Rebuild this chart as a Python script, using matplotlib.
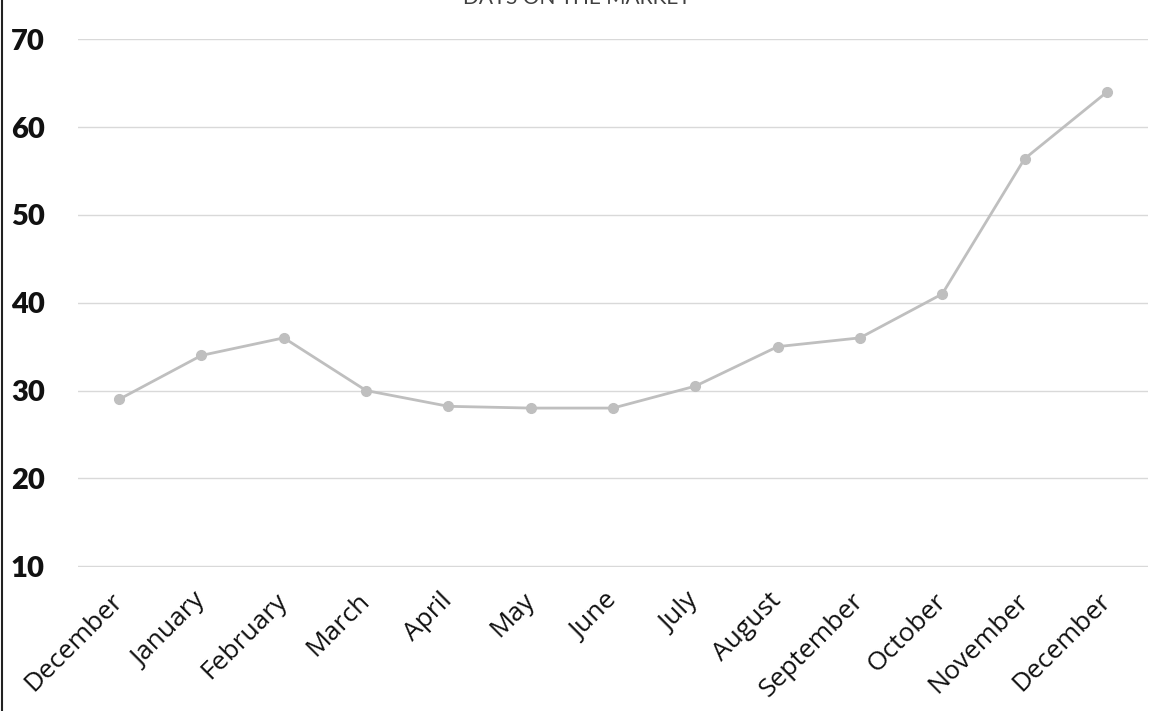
import matplotlib
matplotlib.use("Agg")
import matplotlib.pyplot as plt
from matplotlib.lines import Line2D

months = ["December", "January", "February", "March", "April", "May", "June",
          "July", "August", "September", "October", "November", "December"]
days = [29, 34, 36, 30, 28.2, 28, 28, 30.5, 35, 36, 41, 56.4, 64]
yticks = [10, 20, 30, 40, 50, 60, 70]
title = "DAYS ON THE MARKET"

fig = plt.figure(figsize=(11.54, 7.11), dpi=100)
ax = fig.add_axes([78/1154, 1-566.5/711, (1148-78)/1154, (567-39.5)/711])

x = list(range(len(months)))
ax.plot(x, days, color="#bfbfbf", linewidth=2.0, marker="o", markersize=7,
        markerfacecolor="#bfbfbf", markeredgecolor="#bfbfbf", zorder=3)

ax.set_xlim(-0.5, len(months) - 0.5)
ax.set_ylim(9.95, 70.05)
ax.set_yticks(yticks)
ax.set_yticklabels([str(v) for v in yticks], fontfamily="Lato", fontweight="heavy",
                   fontsize=21, color="#111111")
ax.set_xticks(x)
ax.set_xticklabels(months, rotation=45, ha="right", va="center", rotation_mode="anchor",
                   fontfamily="Open Sans", fontsize=19, color="#111111")
ax.tick_params(axis="y", length=0, pad=24)
ax.tick_params(axis="x", length=0, pad=22)

ax.grid(axis="y", color="#d9d9d9", linewidth=1.0)
ax.set_axisbelow(True)
for s in ax.spines.values():
    s.set_visible(False)

fig.text(0.5, 1 - 4/711, title, ha="center", va="baseline", fontfamily="Lato",
         fontsize=15, color="#404040")
fig.add_artist(Line2D([2/1154, 2/1154], [0, 1], transform=fig.transFigure,
                      color="#222222", linewidth=1.5))

fig.savefig("out.png", dpi=100)
